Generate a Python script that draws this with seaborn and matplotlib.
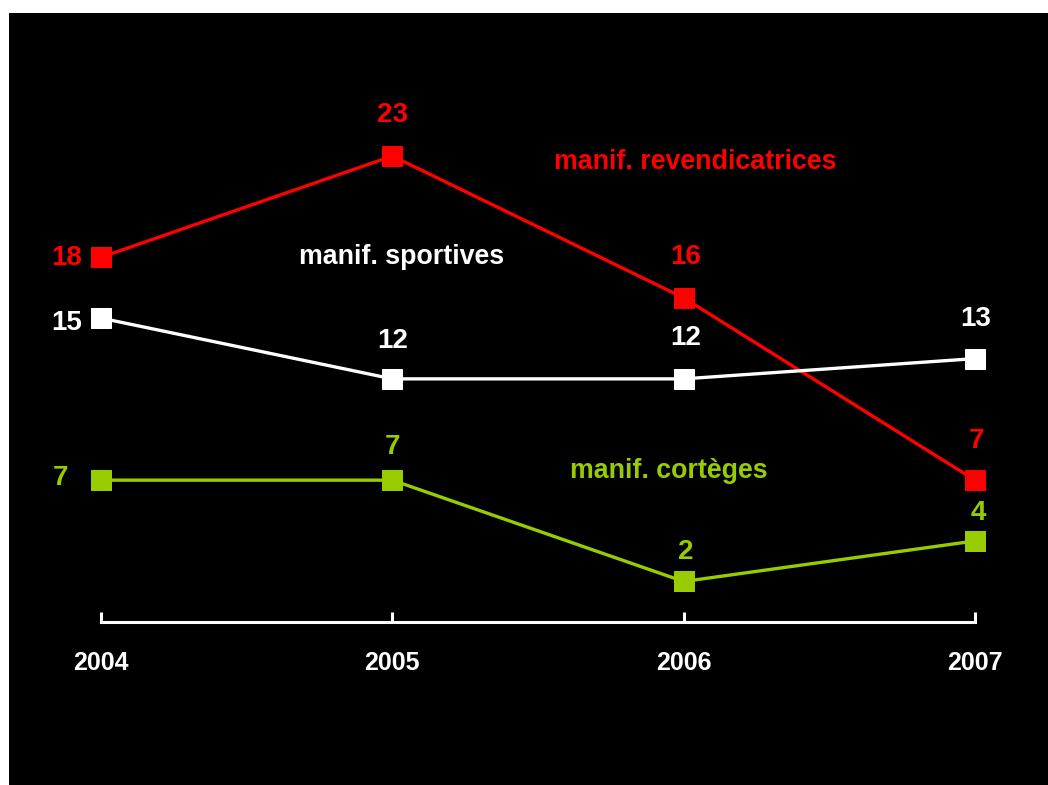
import matplotlib
matplotlib.use("Agg")
import matplotlib.pyplot as plt
import seaborn as sns
import pandas as pd

# ---- data ----
years = [2004, 2005, 2006, 2007]
revendicatrices = [18, 23, 16, 7]
sportives = [15, 12, 12, 13]
corteges = [7, 7, 2, 4]
series_names = ["manif. revendicatrices", "manif. sportives", "manif. cortèges"]
series_values = [revendicatrices, sportives, corteges]

# ---- style ----
colors = ["#FF0000", "#FFFFFF", "#99CC00"]
# label offsets in pixels (dx, dy) per series per year
label_offsets = [
    [(-34, -1), (0, 41), (2, 41), (1, 39)],
    [(-34, -5), (0, 38), (2, 41), (1, 40)],
    [(-41, 2), (0, 33), (2, 29), (3, 28)],
]
series_label_pos = [(2006.04, 22.7), (2005.03, 18.0), (2005.95, 7.45)]

sns.set_theme(style="white")
plt.rcParams["font.family"] = ["Liberation Sans", "DejaVu Sans"]

W, H, DPI = 1048, 785, 100
fig = plt.figure(figsize=(W / DPI, H / DPI), dpi=DPI, facecolor="white")
# black panel
bg = plt.Rectangle((9 / W, 0), 1 - 9 / W, (H - 13) / H,
                   transform=fig.transFigure, facecolor="black",
                   edgecolor="none", zorder=-10)
fig.add_artist(bg)

px_per_year = (975 - 101) / 3
px_per_unit = (622 - 156) / 23
ymax = 25
ax_bottom = (H - 622) / H
ax_height = ymax * px_per_unit / H
ax = fig.add_axes([0, ax_bottom, 1, ax_height])
ax.set_zorder(5)
ax.set_facecolor("none")
ax.set_xlim(2004 - 101 / px_per_year, 2004 + (W - 101) / px_per_year)
ax.set_ylim(0, ymax)

df = pd.DataFrame({
    "year": years * 3,
    "value": revendicatrices + sportives + corteges,
    "serie": sum([[n] * len(years) for n in series_names], []),
})
for name, col in zip(series_names, colors):
    sub = df[df["serie"] == name]
    sns.lineplot(data=sub, x="year", y="value", color=col, marker="s",
                 markersize=14.4, markeredgecolor=col, markerfacecolor=col,
                 linewidth=2.4, ax=ax, legend=False, clip_on=False, zorder=3)

for vals, col, offs in zip(series_values, colors, label_offsets):
    for x, v, (dx, dy) in zip(years, vals, offs):
        ax.annotate(str(v), (x, v), xytext=(dx, dy), textcoords="offset pixels",
                    ha="center", va="center", color=col, fontsize=20,
                    fontweight="bold", annotation_clip=False)

for name, col, (lx, ly) in zip(series_names, colors, series_label_pos):
    ax.text(lx, ly, name, color=col, fontsize=19.3, fontweight="bold",
            ha="center", va="center")

sns.despine(ax=ax, left=True, top=True, right=True)
ax.spines["bottom"].set_color("white")
ax.spines["bottom"].set_linewidth(2.2)
ax.spines["bottom"].set_bounds(2004, 2007)
ax.set_xticks(years)
ax.set_xticklabels([str(y) for y in years])
ax.set_yticks([])
ax.tick_params(axis="x", direction="in", length=7, width=2.2, colors="white",
               labelsize=18, pad=21, bottom=True)
for lbl in ax.get_xticklabels():
    lbl.set_fontweight("bold")
ax.set_xlabel("")
ax.set_ylabel("")

fig.savefig("out.png", dpi=DPI, facecolor="white")
